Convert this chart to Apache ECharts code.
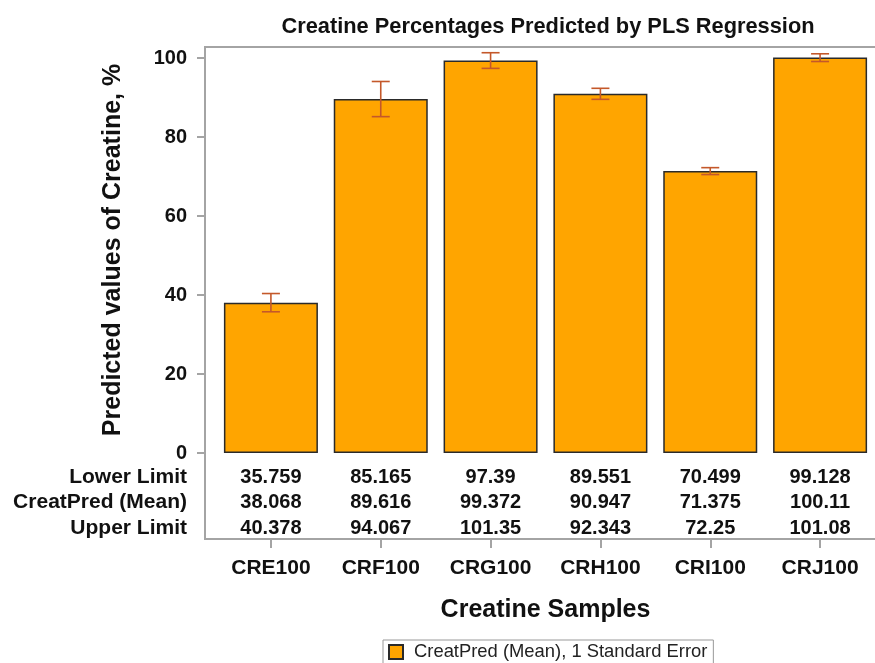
<!DOCTYPE html>
<html>
<head>
<meta charset="utf-8">
<script src="https://cdn.jsdelivr.net/npm/echarts@6/dist/echarts.min.js"></script>
<style>
  html, body { margin: 0; padding: 0; background: #fff; }
  #chart { width: 875px; height: 663px; }
</style>
</head>
<body>
<div id="chart"></div>
<script>
  const categories = ['CRE100', 'CRF100', 'CRG100', 'CRH100', 'CRI100', 'CRJ100']
  const lowerLimit = [35.759, 85.165, 97.39, 89.551, 70.499, 99.128]
  const meanPred = [38.068, 89.616, 99.372, 90.947, 71.375, 100.11]
  const upperLimit = [40.378, 94.067, 101.35, 92.343, 72.25, 101.08]
  const yTicks = [0, 20, 40, 60, 80, 100]
  const rowNames = ['Lower Limit', 'CreatPred (Mean)', 'Upper Limit']
  const rowValues = [lowerLimit, meanPred, upperLimit]

  const font = '"Liberation Sans", Arial, sans-serif'
  const frameColor = '#a4a4a4'
  const errColor = '#c4582a'

  // table rows under the plot, one hidden category axis per row
  const rowOffsets = [24, 49, 75]
  const tableAxes = rowNames.map(function (name, r) {
    return {
      type: 'category',
      data: categories,
      position: 'bottom',
      offset: rowOffsets[r],
      name: name,
      nameLocation: 'start',
      nameGap: 29,
      nameTextStyle: { fontFamily: font, fontWeight: 'bold', fontSize: 21, color: '#111' },
      axisLine: { show: false, onZero: false },
      axisTick: { show: false },
      axisLabel: {
        interval: 0,
        margin: 0,
        verticalAlign: 'middle',
        fontFamily: font,
        fontWeight: 'bold',
        fontSize: 20,
        color: '#111',
        formatter: function (v, i) { return String(rowValues[r][i]) }
      }
    }
  })

  const errData = categories.map(function (c, i) { return [i, lowerLimit[i], upperLimit[i]] })

  function renderErr(params, api) {
    const i = api.value(0)
    const lo = api.coord([i, api.value(1)])
    const hi = api.coord([i, api.value(2)])
    const half = 9
    const style = { stroke: errColor, lineWidth: 1.6 }
    return {
      type: 'group',
      children: [
        { type: 'line', shape: { x1: lo[0], y1: lo[1], x2: hi[0], y2: hi[1] }, style: style },
        { type: 'line', shape: { x1: hi[0] - half, y1: hi[1], x2: hi[0] + half, y2: hi[1] }, style: style },
        { type: 'line', shape: { x1: lo[0] - half, y1: lo[1], x2: lo[0] + half, y2: lo[1] }, style: style }
      ]
    }
  }

  const chart = echarts.init(document.getElementById('chart'))
  chart.setOption({
    backgroundColor: '#fff',
    animation: false,
    title: {
      text: 'Creatine Percentages Predicted by PLS Regression',
      left: 543,
      top: 11,
      textAlign: 'center',
      textStyle: { fontFamily: font, fontWeight: 'bold', fontSize: 21.8, color: '#111' }
    },
    grid: { left: 216, top: 47, width: 661, height: 406 },
    graphic: [{
      type: 'rect',
      shape: { x: 205, y: 47, width: 720, height: 492 },
      style: { fill: 'none', stroke: frameColor, lineWidth: 2 },
      z: 10
    }],
    legend: {
      data: ['CreatPred (Mean), 1 Standard Error'],
      left: 383,
      top: 640,
      padding: [3, 6, 3, 5],
      borderColor: '#999',
      borderWidth: 1,
      itemWidth: 14,
      itemHeight: 14,
      icon: 'rect',
      textStyle: { fontFamily: font, fontSize: 18.4, color: '#222', padding: [0, 0, 0, 6] }
    },
    xAxis: [{
      type: 'category',
      data: categories,
      position: 'bottom',
      offset: 86,
      name: 'Creatine Samples',
      nameLocation: 'middle',
      nameGap: 59,
      nameTextStyle: { fontFamily: font, fontWeight: 'bold', fontSize: 25, color: '#111' },
      axisLine: { show: false, onZero: false },
      axisTick: { show: true, alignWithLabel: true, length: 9, lineStyle: { color: frameColor, width: 2 } },
      axisLabel: { interval: 0, margin: 19, fontFamily: font, fontWeight: 'bold', fontSize: 21, color: '#111' }
    }].concat(tableAxes),
    yAxis: {
      type: 'value',
      min: 0,
      max: 102.8,
      offset: 11,
      name: 'Predicted values of Creatine, %',
      nameLocation: 'middle',
      nameGap: 79,
      nameTextStyle: { fontFamily: font, fontWeight: 'bold', fontSize: 25, color: '#111' },
      splitLine: { show: false },
      axisLine: { show: false },
      axisTick: { show: true, length: 8, customValues: yTicks, lineStyle: { color: frameColor, width: 2 } },
      axisLabel: { margin: 18, customValues: yTicks, fontFamily: font, fontWeight: 'bold', fontSize: 20, color: '#111' }
    },
    series: [{
      name: 'CreatPred (Mean), 1 Standard Error',
      type: 'bar',
      xAxisIndex: 0,
      data: meanPred,
      barWidth: 94,
      itemStyle: { color: '#ffa500', borderColor: '#2a2a2a', borderWidth: 1.5 }
    }, {
      type: 'custom',
      xAxisIndex: 0,
      renderItem: renderErr,
      data: errData,
      z: 5
    }]
  })
</script>
</body>
</html>
